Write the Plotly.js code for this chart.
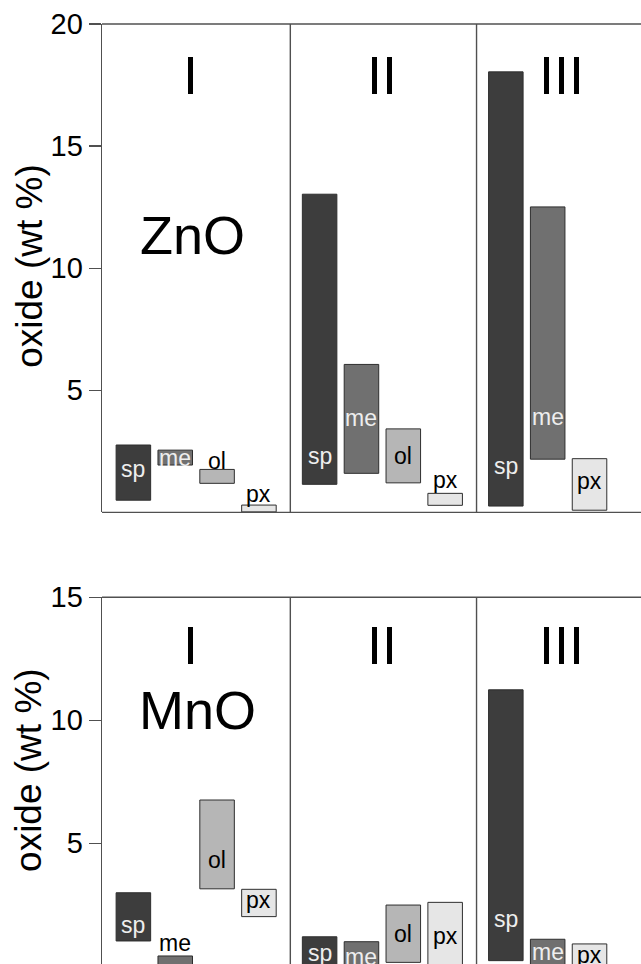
<!DOCTYPE html>
<html>
<head>
<meta charset="utf-8">
<script src="https://cdn.plot.ly/plotly-3.0.1.min.js"></script>
<style>html,body{margin:0;padding:0;background:#fff;}#chart{width:641px;height:964px;}</style>
</head>
<body>
<div id="chart"></div>
<script>
// ---------- data ----------
const groups = ['I', 'II', 'III'];
const minerals = ['sp', 'me', 'ol', 'px'];
// rows: group I, II, III ; columns: sp, me, ol, px  (wt %), null = absent
const znoLow  = [[0.50, 1.94, 1.19, 0.02], [1.15, 1.60, 1.21, 0.29], [0.26, 2.18, null, 0.09]];
const znoHigh = [[2.76, 2.55, 1.76, 0.30], [13.03, 6.06, 3.42, 0.78], [18.04, 12.51, null, 2.20]];
const mnoLow  = [[1.03, 0.00, 3.15, 2.02], [0.00, 0.00, 0.16, 0.00], [0.23, 0.00, null, 0.00]];
const mnoHigh = [[2.99, 0.42, 6.76, 3.13], [1.20, 1.00, 2.49, 2.60], [11.24, 1.10, null, 0.91]];
// label anchor heights (wt %) for the mineral names
const znoLabelAt = [[1.76, 2.24, 2.12, 0.76], [2.31, 3.88, 2.33, 1.31], [1.90, 3.92, null, 1.28]];
const mnoLabelAt = [[1.66, 0.95, 4.32, 2.68], [0.55, 0.38, 1.30, 1.23], [1.93, 0.60, null, 0.47]];

// ---------- styles ----------
const FONT = '"Liberation Sans", Arial, Helvetica, sans-serif';
const fills = {sp: '#3d3d3d', me: '#707070', ol: '#b6b6b6', px: '#e6e6e6'};
const GROUP_STEP = 4.45, BAR_W = 0.825, SEP_OFF = 0.7;
const LINE = '#505050';

function panel(low, high, labelAt, xa, ya) {
  const traces = [], anns = [];
  minerals.forEach((m, mi) => {
    const xs = [], bases = [], ys = [];
    groups.forEach((g, gi) => {
      if (high[gi][mi] === null) return;
      let slot = 0;
      for (let k = 0; k < mi; k++) if (high[gi][k] !== null) slot++;
      const x = gi * GROUP_STEP + slot;
      xs.push(x); bases.push(low[gi][mi]); ys.push(high[gi][mi] - low[gi][mi]);
      const ly = labelAt[gi][mi];
      const inside = ly < high[gi][mi];
      const light = inside && (m === 'sp' || m === 'me');
      anns.push({x: x, y: ly, xref: xa, yref: ya, text: m, showarrow: false,
        xanchor: 'center', yanchor: 'middle',
        font: {family: FONT, size: 23, color: light ? '#eeeeee' : '#000000'}});
    });
    traces.push({type: 'bar', x: xs, y: ys, base: bases, width: BAR_W,
      xaxis: xa, yaxis: ya, name: m, showlegend: false, hoverinfo: 'skip',
      marker: {color: fills[m], line: {color: '#2e2e2e', width: 1}}});
  });
  return {traces, anns};
}

const p1 = panel(znoLow, znoHigh, znoLabelAt, 'x', 'y');
const p2 = panel(mnoLow, mnoHigh, mnoLabelAt, 'x2', 'y2');

const shapes = [];
function frame(xa, ya, withBottom) {
  const xd = xa + ' domain', yd = ya + ' domain';
  shapes.push({type: 'line', xref: xd, yref: yd, x0: 0, x1: 1, y0: 1, y1: 1, line: {color: LINE, width: 1.4}});
  if (withBottom) shapes.push({type: 'line', xref: xd, yref: yd, x0: 0, x1: 1, y0: 0, y1: 0, line: {color: LINE, width: 1.4}});
  for (let gi = 1; gi < groups.length; gi++) {
    const xs = gi * GROUP_STEP - SEP_OFF;
    shapes.push({type: 'line', xref: xa, yref: yd, x0: xs, x1: xs, y0: 0, y1: 1, line: {color: LINE, width: 1.4}});
  }
}
frame('x', 'y', true);
frame('x2', 'y2', false);

const bigFont = {family: FONT, size: 54, color: '#000'};
const romanX = [1.36, 5.95, 10.23];
const anns = [...p1.anns, ...p2.anns];
groups.forEach((g, gi) => {
  anns.push({x: romanX[gi], y: 17.93, xref: 'x', yref: 'y', text: g, showarrow: false, xanchor: 'center', yanchor: 'middle', font: bigFont});
  anns.push({x: romanX[gi], y: 13.08, xref: 'x2', yref: 'y2', text: g, showarrow: false, xanchor: 'center', yanchor: 'middle', font: bigFont});
});
anns.push({x: 1.41, y: 11.38, xref: 'x', yref: 'y', text: 'ZnO', showarrow: false, xanchor: 'center', yanchor: 'middle', font: bigFont});
anns.push({x: 1.53, y: 10.43, xref: 'x2', yref: 'y2', text: 'MnO', showarrow: false, xanchor: 'center', yanchor: 'middle', font: bigFont});
const titleFont = {family: FONT, size: 37, color: '#000'};
anns.push({x: -0.136, y: 0.724, xref: 'paper', yref: 'paper', text: 'oxide (wt %)', textangle: -90, showarrow: false, xanchor: 'center', yanchor: 'middle', font: titleFont});
anns.push({x: -0.136, y: 0.201, xref: 'paper', yref: 'paper', text: 'oxide (wt %)', textangle: -90, showarrow: false, xanchor: 'center', yanchor: 'middle', font: titleFont});

const xCommon = {range: [-0.75, 12.13], showticklabels: false, ticks: '', showline: false, showgrid: false, zeroline: false, fixedrange: true};
const yCommon = {ticks: 'outside', ticklen: 12, tickwidth: 1.4, tickcolor: LINE, showline: true, linecolor: LINE, linewidth: 1.4,
  showgrid: false, zeroline: false, tickfont: {family: FONT, size: 29, color: '#000'}, fixedrange: true};

const layout = {
  width: 641, height: 964,
  margin: {l: 102, r: 0, t: 0, b: 0, pad: 0},
  paper_bgcolor: '#fff', plot_bgcolor: '#fff',
  barmode: 'overlay',
  showlegend: false,
  xaxis: Object.assign({}, xCommon, {domain: [0, 1], anchor: 'y'}),
  yaxis: Object.assign({}, yCommon, {domain: [0.46846, 0.9751], range: [0, 20], tickvals: [5, 10, 15, 20], anchor: 'x'}),
  xaxis2: Object.assign({}, xCommon, {domain: [0, 1], anchor: 'y2'}),
  yaxis2: Object.assign({}, yCommon, {domain: [0, 0.38039], range: [0.094, 15], tickvals: [5, 10, 15], anchor: 'x2'}),
  shapes: shapes,
  annotations: anns
};

Plotly.newPlot('chart', [...p1.traces, ...p2.traces], layout, {staticPlot: true, displayModeBar: false});
</script>
</body>
</html>
